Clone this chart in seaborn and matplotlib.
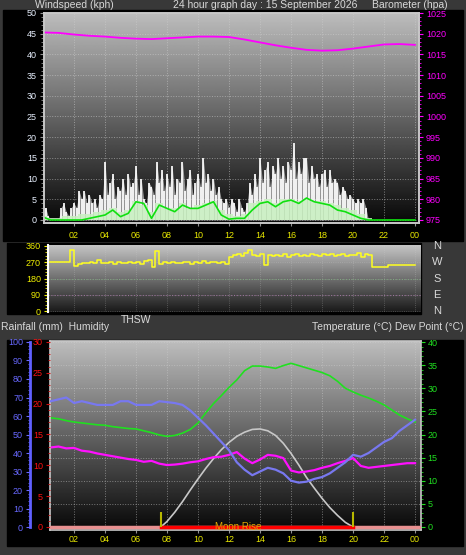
import numpy as np
import matplotlib
matplotlib.use("Agg")
import matplotlib.pyplot as plt
from matplotlib.patches import Rectangle
from matplotlib.ticker import MultipleLocator
import seaborn as sns

plt.rcParams['font.family'] = ['Liberation Sans', 'DejaVu Sans']

W, H = 466, 555

# ---------------- data ----------------
# wind gusts, 10 minute samples 00:00 - 24:00 (kph)
gust_kph = [3, 3, 1, 0, 0, 0,
            0, 3, 4, 2, 1, 3,
            4, 3, 7, 5, 7, 4,
            6, 4, 5, 3, 6, 5,
            14, 6, 9, 11, 5, 8,
            7, 10, 6, 11, 8, 9,
            13, 6, 10, 5, 4, 9,
            8, 6, 14, 9, 12, 7,
            11, 8, 13, 6, 10, 9,
            14, 7, 10, 12, 6, 9,
            11, 8, 15, 9, 11, 7,
            10, 6, 8, 5, 4, 5,
            3, 5, 4, 2, 5, 3,
            2, 4, 9, 6, 11, 8,
            15, 9, 12, 14, 8, 13,
            11, 15, 10, 13, 9, 14,
            12, 18.5, 10, 14, 11, 15,
            15, 9, 13, 10, 11, 8,
            11, 12, 8, 12, 9, 10,
            9, 6, 8, 7, 5, 6,
            5, 4, 5, 4, 5, 3,
            0, 0, 0, 0, 0, 0,
            0, 0, 0, 0, 0, 0,
            0, 0, 0, 0, 0, 0,
            0]
gust_time = np.arange(len(gust_kph)) / 6

# average wind, 30 minute samples (kph)
wind_avg = [0.7, 0, 0, 0, 0, 0, 0.4, 0.8, 1.2, 2.4, 0.8, 1.6, 4.4, 4.0, 0.4, 3.6,
            2.8, 2.0, 3.6, 2.8, 2.8, 3.6, 4.4, 1.2, 0.2, 0.4, 0.4, 2.4, 4.0, 4.4,
            3.2, 4.4, 4.8, 4.0, 5.3, 4.4, 4.0, 3.6, 2.4, 2.0, 1.2, 0.4, 0, 0, 0,
            0, 0, 0, 0]
wind_fill = [1.0, 0.5, 0.5, 1.0, 1.0, 1.5, 1.5, 2.0, 2.5, 3.0, 2.0, 2.5, 4.5, 3.5,
             2.0, 4.0, 3.0, 3.0, 4.0, 3.0, 3.5, 4.0, 4.5, 2.5, 1.5, 1.0, 1.5, 4.0,
             4.5, 5.0, 4.0, 5.0, 5.0, 4.5, 5.0, 4.5, 4.5, 4.0, 3.5, 3.0, 2.5, 1.5,
             0.5, 0, 0, 0, 0, 0, 0]
avg_time = np.arange(len(wind_avg)) / 2

# barometer, hourly (hpa)
baro_hpa = [1020.3, 1020.2, 1019.8, 1019.5, 1019.3, 1019.0, 1018.8, 1018.7, 1018.9,
            1019.1, 1019.3, 1019.3, 1019.2, 1018.6, 1017.9, 1017.2, 1016.6, 1016.1,
            1015.9, 1016.0, 1016.4, 1016.9, 1017.4, 1017.5, 1017.3]
baro_time = np.arange(len(baro_hpa))

# wind direction, 15 minute samples (degrees)
wind_dir = [270, 270, 270, 270, 270, 270, 270, 338, 248, 262, 268, 264,
            270, 266, 282, 268, 266, 272, 262, 270, 268, 264, 274, 266,
            270, 262, 276, 280, 246, 335, 262, 270, 266, 272, 268, 264,
            270, 274, 262, 270, 268, 276, 266, 272, 270, 264, 274, 258,
            300, 312, 318, 306, 322, 340, 312, 306, 318, 252, 310, 304,
            312, 306, 316, 300, 308, 318, 304, 312, 306, 314, 310, 302,
            314, 308, 318, 306, 310, 316, 304, 312, 308, 322, 300, 318,
            312, 246, 246, 246, 246, 256, 256, 256, 256, 256, 256, 256,
            256]
dir_time = np.arange(len(wind_dir)) / 4

# humidity / temperature / dew point, 30 minute samples from 00:30
humidity = [68, 69, 70, 67, 68, 67, 66, 66, 66, 68, 68, 66, 66, 66, 68, 67.5, 67, 66,
            63, 59, 55, 50.5, 46, 41.5, 35, 31, 28, 30, 32, 31, 29, 25, 24, 24.5,
            26, 27, 29, 32, 35, 39, 38, 40, 43, 46, 48, 52, 55, 58]
temperature = [23.6, 23.4, 23.0, 22.7, 22.5, 22.3, 22.1, 22.0, 21.7, 21.5, 21.3, 21.2,
               20.8, 20.4, 19.9, 19.6, 19.8, 20.3, 21.1, 22.5, 24.7, 26.7, 28.4, 30.2,
               31.8, 33.8, 34.8, 34.8, 34.6, 34.3, 34.9, 35.4, 34.9, 34.4, 33.9, 33.4,
               32.7, 31.5, 30.0, 29.2, 28.5, 27.9, 27.2, 26.4, 25.3, 24.2, 23.4, 22.7]
dew_point = [17.2, 17.4, 17.0, 17.1, 16.5, 16.3, 15.9, 15.6, 15.3, 15.0, 14.7, 14.5,
             14.1, 14.3, 13.7, 13.4, 13.5, 13.7, 14.0, 14.2, 14.7, 15.1, 15.2, 15.6,
             16.2, 14.8, 13.8, 14.6, 15.6, 15.4, 14.9, 12.2, 11.8, 12.0, 12.3, 12.8,
             13.2, 13.8, 14.3, 14.9, 13.2, 12.8, 13.0, 13.2, 13.4, 13.6, 13.8, 13.8]
low_time = 0.5 + np.arange(len(humidity)) / 2

# THSW curve
thsw_time = [7.6, 8, 8.5, 9, 9.5, 10, 10.5, 11, 11.5, 12, 12.5, 13, 13.5, 14, 14.5,
             15, 15.5, 16, 16.5, 17, 17.5, 18, 18.5, 19, 19.5, 20]
thsw = [0, 1.2, 3.2, 5.5, 8.0, 10.4, 12.7, 14.8, 16.7, 18.3, 19.6, 20.5, 21.1, 21.2,
        20.8, 19.8, 18.1, 15.9, 13.4, 10.7, 8.4, 6.2, 4.2, 2.5, 1.0, 0]

rain_time = [0, 7.6, 20.0, 24.5]
rain_mm = [0, 0, 0, 0]
sunrise, sunset = 7.6, 20.0

hour_ticks = list(range(2, 25, 2))
hour_labels = ["02", "04", "06", "08", "10", "12", "14", "16", "18", "20", "22", "00"]


# ---------------- layout helpers ----------------
def rect(x0, y0, x1, y1):
    return [x0 / W, 1 - y1 / H, (x1 - x0) / W, (y1 - y0) / H]


def black_box(fig, x0, y0, x1, y1):
    fig.add_artist(Rectangle((x0 / W, 1 - y1 / H), (x1 - x0) / W, (y1 - y0) / H,
                             transform=fig.transFigure, color="black", zorder=0))


def gradient(ax, xlim, ylim, top, bottom):
    g = np.linspace(top, bottom, 256).reshape(-1, 1)
    ax.imshow(g, extent=[xlim[0], xlim[1], ylim[0], ylim[1]], aspect="auto",
              cmap="gray", vmin=0, vmax=1, zorder=0)
    ax.set_xlim(xlim)
    ax.set_ylim(ylim)


def frame(ax):
    for s in ax.spines.values():
        s.set_color("#c8c8c8")
        s.set_linewidth(1.2)


fig = plt.figure(figsize=(W / 100, H / 100), dpi=100, facecolor="#383838")
black_box(fig, 3, 10, 463, 241)
black_box(fig, 7, 243, 421, 314)
black_box(fig, 7, 340, 463, 546)

txt = dict(color="#d8d8d8", fontsize=7.5)
fig.text(35 / W, 1 - 5 / H, "Windspeed (kph)", va="center", **txt)
fig.text(173 / W, 1 - 5 / H, "24 hour graph day : 15 September 2026", va="center", **txt)
fig.text(372 / W, 1 - 5 / H, "Barometer (hpa)", va="center", **txt)

# ---------------- top panel: wind + barometer ----------------
ax1 = fig.add_axes(rect(44, 13, 419, 223))
xl1, yl1 = (0.065, 24.26), (-0.73, 50)
gradient(ax1, xl1, yl1, 0.74, 0.03)
ax1.set_xticks(hour_ticks)
ax1.set_yticks(range(0, 51, 5))
ax1.grid(color="#d0d0d0", linestyle=":", linewidth=0.7, alpha=0.55)
ax1.fill_between(gust_time, gust_kph, color="#e8e8e8", alpha=0.6, lw=0, zorder=2)
ax1.vlines(gust_time, 0, gust_kph, color="#ffffff", lw=1.3, alpha=0.95, zorder=2)
ax1.fill_between(avg_time, wind_fill, step="mid", color="#c8f0c0", alpha=0.85, lw=0, zorder=3)
sns.lineplot(x=avg_time, y=wind_avg, ax=ax1, color="#10e010", lw=1.2, zorder=4,
             estimator=None, legend=False)
ax1.set_xlim(xl1)
ax1.set_ylim(yl1)
ax1.yaxis.set_minor_locator(MultipleLocator(1))
ax1.tick_params(axis="y", which="both", colors="#909090", labelcolor="#e8f0ff",
                labelsize=6.5, length=3, pad=2)
ax1.tick_params(axis="y", which="minor", length=2)
ax1.set_xticklabels(hour_labels)
ax1.tick_params(axis="x", colors="#909090", labelcolor="#e8e800", labelsize=6.5,
                length=2, pad=3.5)
frame(ax1)

ax1b = ax1.twinx()
sns.lineplot(x=baro_time, y=baro_hpa, ax=ax1b, color="#ff00ff", lw=1.3,
             estimator=None, legend=False)
ax1b.set_ylim(975 - 0.73, 1025)
ax1b.set_yticks(range(975, 1026, 5))
ax1b.yaxis.set_minor_locator(MultipleLocator(1))
ax1b.tick_params(axis="y", which="both", colors="#ff00ff", labelsize=6.5, length=3, pad=2)
ax1b.tick_params(axis="y", which="minor", length=1.5)
ax1b.set_ylabel("")
frame(ax1b)

# ---------------- middle panel: wind direction ----------------
ax2 = fig.add_axes(rect(48, 245, 421, 312))
xl2, yl2 = (0.32, 24.39), (-5.5, 365.5)
gradient(ax2, xl2, yl2, 0.78, 0.1)
ax2.set_yticks([0, 90, 180, 270, 360])
ax2.set_xticks(hour_ticks)
ax2.grid(color="#d0d0d0", linestyle=":", linewidth=0.6, alpha=0.35)
ax2.axhline(180, color="#80c080", ls=":", lw=0.8, alpha=0.6)
ax2.axhline(90, color="#c080c0", ls=":", lw=0.8, alpha=0.6)
sns.lineplot(x=dir_time, y=wind_dir, ax=ax2, color="#ffff20", lw=1.1,
             estimator=None, legend=False, drawstyle="steps-post")
ax2.set_xlim(xl2)
ax2.set_ylim(yl2)
ax2.yaxis.set_minor_locator(MultipleLocator(18))
ax2.tick_params(axis="y", which="both", colors="#f0f000", labelsize=6.5, length=3, pad=2)
ax2.tick_params(axis="y", which="minor", length=2)
ax2.tick_params(axis="x", length=0, labelbottom=False)
for s in ax2.spines.values():
    s.set_visible(False)
ax2.spines["left"].set_visible(True)
ax2.spines["left"].set_color("white")
ax2.spines["left"].set_linewidth(1.5)

for lab, yy in zip(["N", "W", "S", "E", "N"], [246, 262, 278.5, 295, 311]):
    fig.text(437 / W, 1 - yy / H, lab, color="#d8d8d8", fontsize=8, ha="center", va="center")

fig.text(1 / W, 1 - 327 / H, "Rainfall (mm)  Humidity", va="center", **txt)
fig.text(121 / W, 1 - 320 / H, "THSW", va="center", **txt)
fig.text(464 / W, 1 - 327 / H, "Temperature (\u00b0C) Dew Point (\u00b0C)", va="center",
         ha="right", **txt)

# ---------------- bottom panel: temp / humidity / rain ----------------
ax3 = fig.add_axes(rect(50, 341, 420.5, 530))
axh = ax3.twinx()
axr = ax3.twinx()

xl3, yl3 = (0.45, 24.35), (-0.65, 40.22)
gradient(ax3, xl3, yl3, 0.74, 0.03)
ax3.set_xticks(hour_ticks)
ax3.set_yticks(np.arange(0, 41, 4))
ax3.grid(color="#d0d0d0", linestyle=":", linewidth=0.7, alpha=0.5)
sns.lineplot(x=thsw_time, y=thsw, ax=ax3, color="#c8c8c8", lw=1.2,
             estimator=None, legend=False)
sns.lineplot(x=low_time, y=temperature, ax=ax3, color="#20e020", lw=1.2,
             estimator=None, legend=False)
sns.lineplot(x=low_time, y=dew_point, ax=ax3, color="#ff10ff", lw=1.6,
             estimator=None, legend=False)
ax3.set_xlim(xl3)
ax3.set_ylim(yl3)
ax3.yaxis.tick_right()
ax3.yaxis.set_label_position("right")
ax3.set_yticks(range(0, 41, 5))
ax3.yaxis.set_minor_locator(MultipleLocator(1))
ax3.tick_params(axis="y", which="both", colors="#20e020", labelsize=6.5, length=3, pad=2)
ax3.tick_params(axis="y", which="minor", length=1.5)
ax3.set_xticklabels(hour_labels)
ax3.tick_params(axis="x", colors="#909090", labelcolor="#e8e800", labelsize=6.5,
                length=2, pad=1.5)
ax3.set_ylabel("")
frame(ax3)

sns.lineplot(x=low_time, y=humidity, ax=axh, color="#7878f0", lw=1.6,
             estimator=None, legend=False)
axh.set_ylim(-1.62, 100.54)
axh.yaxis.set_ticks_position("left")
axh.yaxis.set_label_position("left")
axh.set_yticks(range(0, 101, 10))
axh.yaxis.set_minor_locator(MultipleLocator(2))
axh.spines["left"].set_position(("outward", 14.4))
axh.spines["left"].set_color("#6060ff")
axh.spines["left"].set_linewidth(2)
axh.spines["left"].set_bounds(0, 100)
for s in ["right", "top", "bottom"]:
    axh.spines[s].set_visible(False)
axh.tick_params(axis="y", which="both", colors="#6868ff", labelsize=6.5, length=3, pad=2)
axh.tick_params(axis="y", which="minor", length=1.5)
axh.set_ylabel("")

axr.plot(rain_time, rain_mm, color="#e89090", lw=2.5, zorder=3)
axr.plot([sunrise, sunset], [0, 0], color="#ff0000", lw=2.5, zorder=4)
axr.vlines([sunrise, sunset], 0, 3.3 * 30 / 40, color="#b8b800", lw=1.5, zorder=5)
axr.text(11.1, 0.05, "Moon Rise", color="#e0a800", fontsize=7, va="center", zorder=6)
axr.set_ylim(-0.49, 30.16)
axr.set_xlim(xl3)
axr.yaxis.set_ticks_position("left")
axr.set_yticks(range(0, 31, 5))
axr.yaxis.set_minor_locator(MultipleLocator(1))
for s in ["left", "right", "top", "bottom"]:
    axr.spines[s].set_visible(False)
axr.tick_params(axis="y", which="both", colors="#d01010", labelcolor="#ff1010",
                labelsize=6.5, length=3, pad=2)
axr.tick_params(axis="y", which="minor", length=1.5)

fig.savefig("out.png", dpi=100, facecolor=fig.get_facecolor())
